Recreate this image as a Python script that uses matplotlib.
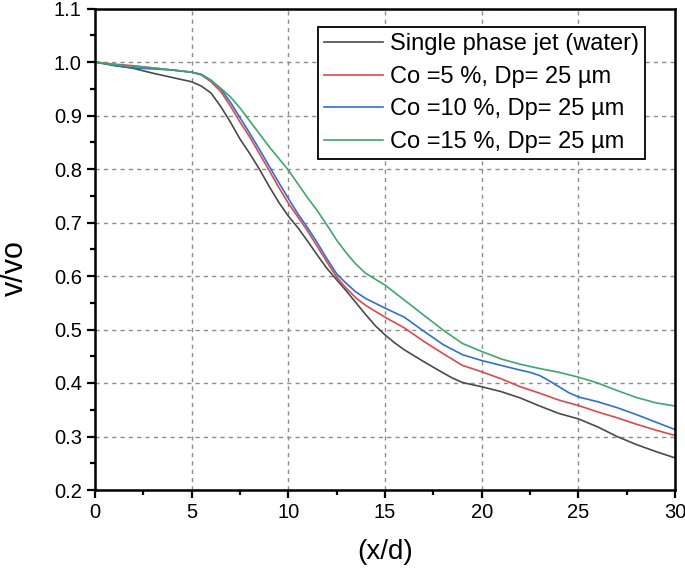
import matplotlib
matplotlib.use("Agg")
import matplotlib.pyplot as plt
from matplotlib.ticker import MultipleLocator

plt.rcParams['font.family'] = ['Liberation Sans', 'DejaVu Sans']

# Single phase jet (water)
x_water = [0, 1, 2, 3, 4, 5, 5.5, 6, 6.5, 7, 7.5, 8, 8.5, 9, 9.5, 10, 10.5, 11, 11.5, 12,
           12.5, 13, 13.5, 14, 14.5, 15, 15.5, 16, 17, 18, 18.5, 19, 20, 21, 22, 23, 24,
           25, 26, 27, 28, 29, 30]
v_water = [1.0, 0.994, 0.988, 0.979, 0.971, 0.963, 0.955, 0.942, 0.917, 0.888, 0.856, 0.829,
           0.80, 0.768, 0.738, 0.712, 0.690, 0.665, 0.639, 0.614, 0.593, 0.572, 0.550, 0.528,
           0.507, 0.490, 0.475, 0.462, 0.440, 0.419, 0.409, 0.401, 0.393, 0.384, 0.372,
           0.357, 0.343, 0.333, 0.318, 0.300, 0.285, 0.272, 0.260]

# Co = 5 %
x_co5 = [0, 1, 2, 3, 4, 5, 5.5, 6, 6.5, 7, 7.5, 8, 8.5, 9, 9.5, 10, 10.5, 11, 11.5, 12, 12.5,
         13, 13.5, 14, 15, 16, 17, 18, 19, 20, 21, 22, 23, 24, 25, 26, 27, 28, 29, 30]
v_co5 = [1.0, 0.996, 0.993, 0.989, 0.985, 0.981, 0.976, 0.963, 0.945, 0.918, 0.888, 0.860,
         0.829, 0.798, 0.766, 0.736, 0.710, 0.684, 0.655, 0.626, 0.598, 0.577, 0.559, 0.545,
         0.523, 0.503, 0.478, 0.455, 0.433, 0.421, 0.408, 0.393, 0.381, 0.368, 0.358,
         0.346, 0.335, 0.323, 0.312, 0.302]

# Co = 10 %
x_co10 = [0, 1, 2, 3, 4, 5, 5.5, 6, 6.5, 7, 7.5, 8, 8.5, 9, 9.5, 10, 10.5, 11, 11.5, 12, 12.5,
          13, 13.5, 14, 15, 16, 17, 18, 19, 20, 21, 22, 22.5, 23, 23.5, 24, 24.5, 25, 26, 27,
          28, 29, 30]
v_co10 = [1.0, 0.993, 0.989, 0.987, 0.985, 0.981, 0.977, 0.966, 0.950, 0.925, 0.896, 0.867,
          0.837, 0.806, 0.775, 0.745, 0.716, 0.690, 0.662, 0.632, 0.604, 0.586, 0.570, 0.558,
          0.540, 0.523, 0.497, 0.472, 0.453, 0.442, 0.433, 0.424, 0.420, 0.414, 0.404,
          0.393, 0.382, 0.374, 0.365, 0.354, 0.341, 0.327, 0.313]

# Co = 15 %
x_co15 = [0, 1, 2, 3, 4, 5, 5.5, 6, 6.5, 7, 7.5, 8, 8.5, 9, 9.5, 10, 10.5, 11, 11.5, 12, 12.5,
          13, 13.5, 14, 15, 16, 17, 18, 19, 20, 21, 22, 23, 24, 25, 26, 27, 28, 29, 30]
v_co15 = [1.0, 0.995, 0.992, 0.989, 0.985, 0.981, 0.976, 0.965, 0.951, 0.935, 0.914, 0.890,
          0.866, 0.842, 0.820, 0.798, 0.772, 0.746, 0.722, 0.695, 0.667, 0.643, 0.622, 0.605,
          0.583, 0.555, 0.527, 0.499, 0.474, 0.459, 0.445, 0.435, 0.427, 0.420, 0.411,
          0.400, 0.386, 0.373, 0.363, 0.357]

labels = ["Single phase jet (water)", "Co =5 %, Dp= 25 µm",
          "Co =10 %, Dp= 25 µm", "Co =15 %, Dp= 25 µm"]
colors = ["#4a4a4a", "#e0474c", "#2e6fd3", "#3fa76a"]

fig = plt.figure(figsize=(6.85, 5.7), dpi=100)
ax = fig.add_axes([95 / 685, 80 / 570, 580 / 685, 481.5 / 570])

series = [(x_water, v_water), (x_co5, v_co5), (x_co10, v_co10), (x_co15, v_co15)]
for (xs, ys), lab, col in zip(series, labels, colors):
    ax.plot(xs, ys, color=col, lw=1.2, label=lab)

ax.set_xlim(0, 30)
ax.set_ylim(0.2, 1.1)
ax.xaxis.set_major_locator(MultipleLocator(5))
ax.xaxis.set_minor_locator(MultipleLocator(2.5))
ax.yaxis.set_major_locator(MultipleLocator(0.1))
ax.yaxis.set_minor_locator(MultipleLocator(0.05))
ax.tick_params(which='major', direction='out', length=6, width=1.6, labelsize=14.5)
ax.tick_params(which='minor', direction='out', length=3.5, width=1.6)
for sp in ax.spines.values():
    sp.set_linewidth(1.8)

ax.grid(True, which='major', color='#8c8c8c', linestyle=(0, (3, 3)), linewidth=1)
ax.set_axisbelow(True)

ax.set_xlabel("(x/d)", fontsize=20, labelpad=12)
ax.set_ylabel("v/vo", fontsize=22)
ax.yaxis.set_label_coords(-0.112, 0.46)

leg = ax.legend(loc='upper right', bbox_to_anchor=(0.948, 0.961), fontsize=17,
                frameon=True, fancybox=False, edgecolor='black', framealpha=1,
                handlelength=2.5, handletextpad=0.3, borderpad=0.25,
                labelspacing=0.45, borderaxespad=0)
leg.get_frame().set_linewidth(1.3)

fig.savefig("out.png", dpi=100)
